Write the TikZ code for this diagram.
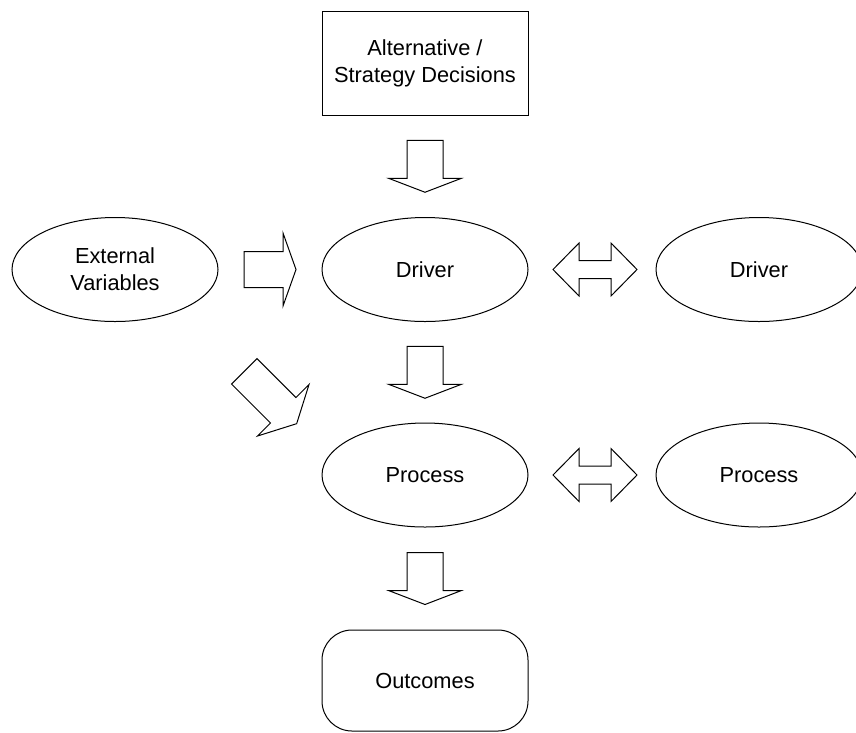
\documentclass[tikz,border=0pt]{standalone}
\usepackage{fontspec}
\setmainfont{Liberation Sans}
\usetikzlibrary{shapes.geometric,calc}
\begin{document}
\begin{tikzpicture}[x=1pt,y=-1pt,
  outline/.style={draw=black,line width=1pt,line join=miter},
  txt/.style={font=\fontsize{21.8}{27}\selectfont,align=center,text=black},
  oval/.style={outline,txt,ellipse,minimum width=206pt,minimum height=104pt,inner sep=0pt},
  boxed/.style={outline,txt,rectangle,minimum width=206pt,minimum height=104pt,inner sep=0pt},
  % block arrow centred on its origin, pointing along +x: #1 shaft length, #2 head length
  pics/blockarrow/.style 2 args={code={
    \draw[outline] ({-(#1+#2)/2},-18) -- ({(#1-#2)/2},-18) -- ({(#1-#2)/2},-36.5)
      -- ({(#1+#2)/2},0) -- ({(#1-#2)/2},36.5) -- ({(#1-#2)/2},18)
      -- ({-(#1+#2)/2},18) -- cycle;}},
  % two-headed block arrow centred on its origin
  pics/twoway/.style={code={
    \draw[outline] (-42,0) -- (-16,-26.5) -- (-16,-9) -- (16,-9) -- (16,-26.5)
      -- (42,0) -- (16,26.5) -- (16,9) -- (-16,9) -- (-16,26.5) -- cycle;}}
]
\useasboundingbox (0,0) rectangle (856,732);

% nodes
\node[boxed] (alt) at (425,63) {Alternative /\\Strategy Decisions};
\node[oval] (ext) at (115,269.5) {External\\Variables};
\node[oval] (drv) at (425,269.5) {Driver};
\node[oval] (drvb) at (759,269.5) {Driver};
\node[oval] (proc) at (425,475) {Process};
\node[oval] (procb) at (759,475) {Process};
\node[outline,txt,rectangle,rounded corners=30pt,minimum width=206pt,minimum height=101pt,inner sep=0pt]
  (out) at (425,680.5) {Outcomes};

% block arrows between the nodes
\pic[rotate=-90] at ($(alt.south)!0.5!(drv.north)$) {blockarrow={38}{14}};
\pic[rotate=-90] at ($(drv.south)!0.5!(proc.north)$) {blockarrow={38}{14}};
\pic[rotate=-90] at ($(proc.south)!0.5!(out.north)$) {blockarrow={38}{14}};
\pic at ($(ext.east)!0.5!(drv.west)$) {blockarrow={39}{13}};
\coordinate (diag) at (270.5,397.5);
\pic[rotate=-45] at (diag) {blockarrow={55}{19}};
\pic at ($(drv.east)!0.5!(drvb.west)+(3,0)$) {twoway};
\pic at ($(proc.east)!0.5!(procb.west)+(3,0)$) {twoway};
\end{tikzpicture}
\end{document}
